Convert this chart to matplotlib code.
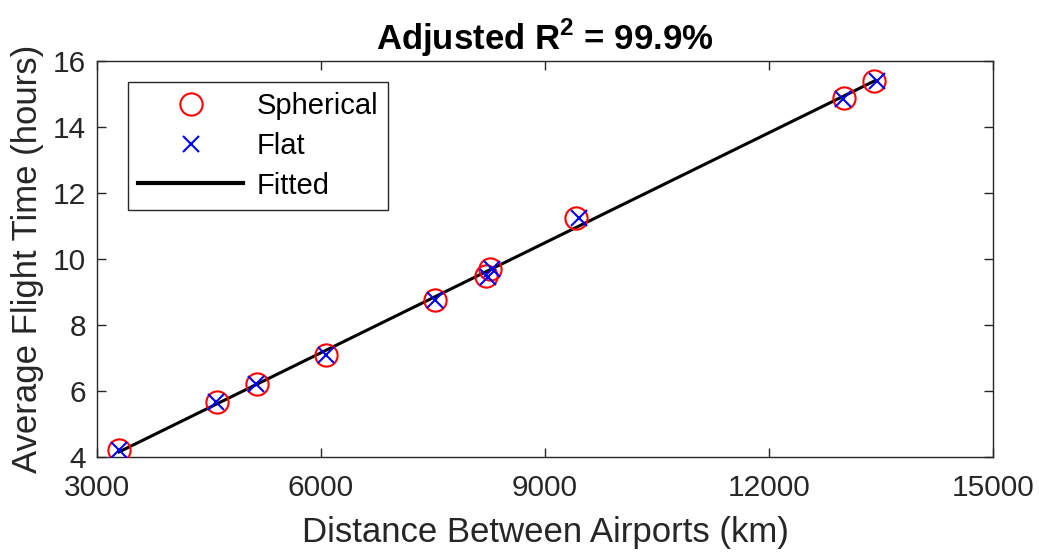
import numpy as np
import matplotlib
matplotlib.use("Agg")
import matplotlib.pyplot as plt

plt.rcParams['font.family'] = ['Liberation Sans', 'DejaVu Sans']
plt.rcParams['mathtext.fontset'] = 'custom'
plt.rcParams['mathtext.rm'] = 'Liberation Sans'
plt.rcParams['mathtext.bf'] = 'Liberation Sans:bold'

# Data
sph_dist = [3295, 4607, 5143, 6067, 7527, 8207, 8263, 9415, 13000, 13407]
flat_dist = [3290, 4600, 5135, 6060, 7520, 8230, 8285, 9459, 12995, 13440]
flight_time = [4.21, 5.67, 6.21, 7.09, 8.76, 9.48, 9.70, 11.23, 14.89, 15.39]
flat_time = [4.20, 5.66, 6.20, 7.08, 8.75, 9.45, 9.70, 11.23, 14.85, 15.39]

xticks = [3000, 6000, 9000, 12000, 15000]
yticks = [4, 6, 8, 10, 12, 14, 16]

fig = plt.figure(figsize=(10.39, 5.52), dpi=100)
ax = fig.add_axes([0.0934, 0.1721, 0.8623, 0.7174])

coef = np.polyfit(sph_dist, flight_time, 1)
xf = np.array([min(sph_dist), max(sph_dist)])
ax.plot(sph_dist, flight_time, 'o', mfc='none', mec='red', ms=16, mew=1.5, label='Spherical', zorder=3)
ax.plot(flat_dist, flat_time, 'x', color='blue', ms=11.5, mew=1.5, label='Flat', zorder=4)
ax.plot(xf, np.polyval(coef, xf), '-', color='black', lw=2.2, label='Fitted', zorder=2)

ax.set_xlim(3000, 15000)
ax.set_ylim(4, 16)
ax.set_xticks(xticks)
ax.set_yticks(yticks)
ax.tick_params(direction='in', top=True, right=True, labelsize=21.5, length=6.5, width=1, colors='#262626')
ax.tick_params(axis='x', pad=12)
ax.tick_params(axis='y', pad=8)
for s in ax.spines.values():
    s.set_color('#262626')
    s.set_linewidth(1)

ax.set_xlabel('Distance Between Airports (km)', fontsize=25, color='#262626', labelpad=10)
ax.set_ylabel('Average Flight Time (hours)', fontsize=25, color='#262626', labelpad=6)
ax.set_title(r'Adjusted R$^{\mathbf{2}}$ = 99.9%', fontsize=25, fontweight='bold', pad=8)

leg = ax.legend(loc='upper left', fontsize=21, frameon=True, fancybox=False,
                edgecolor='#262626', framealpha=1, handlelength=3.6, handletextpad=0.45,
                borderpad=0.35, borderaxespad=0, labelspacing=0.4,
                bbox_to_anchor=(0.0346, 0.947))
leg.get_frame().set_linewidth(1)
leg.get_lines()[2].set_linewidth(3)

fig.savefig('out.png', dpi=100)
